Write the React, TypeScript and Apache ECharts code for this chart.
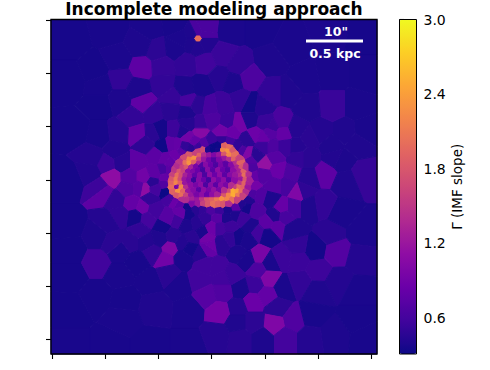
import React, { useEffect, useRef } from "react";
import * as echarts from "echarts";

const titleText = "Incomplete modeling approach";
const colorbarName = "Γ (IMF slope)";
const scaleTop = '10"';
const scaleBottom = "0.5 kpc";
const gammaTicks = [0.6, 1.2, 1.8, 2.4, 3.0];
const gammaMin = 0.31;
const gammaMax = 3.0;
const plasma = ["#0d0887", "#41049d", "#6a00a8", "#8f0da4", "#b12a90", "#cc4778", "#e16462", "#f2844b", "#fca636", "#fcce25", "#f0f921"];
const xTicks = [52, 105.2, 158.4, 211.6, 264.8, 318, 371.2];
const yTicks = [20, 73.2, 126.4, 179.6, 232.8, 286, 339];
const xRange = [51, 377];
const yRange = [19, 354];

// Voronoi bins: [x, y, gamma]
const binsBackground = [
  [70,40,.36],[110,30,.37],[150,28,.38],[175,25,.37],[70,80,.36],[95,70,.36],[100,105,.36],[75,130,.36],[100,135,.37],[70,180,.36],[70,225,.36],[72,250,.36],[72,275,.36],[70,310,.36],[70,345,.37],[110,345,.37],[97,295,.37],[125,300,.37],[150,345,.37],[150,280,.38],[190,345,.38],[190,310,.39],[180,285,.39],[230,30,.38],[260,30,.37],[290,45,.38],[330,30,.39],[365,35,.36],[365,75,.37],[332,75,.38],[357,105,.38],[305,80,.39],[270,60,.4],[365,130,.38],[345,132,.41],[320,132,.43],
];
const binsUpperLeft = [
  [142,67,.76],[120,79,.5],[118,58,.39],[100,85,.37],[120,100,.4],[157,50,.47],[140,44,.4],[175,48,.39],[162,66,.52],[163,84,.5],[138,89,.4],[143,103,.78],[133,117,.5],[153,114,.5],[138,134,.8],[118,133,.44],[115,150,.42],[160,130,.35],[173,97,.52],[188,100,.62],[172,110,.46],[153,133,.46],[175,130,.56],[187,113,.4],[198,105,.47],[200,132,1.05],[183,132,.41],[185,88,.4],[202,85,.38],[187,63,.5],[205,62,.58],[205,27,.64],[198,38,2.0],[198,31,.64],[204,34,.64],[204,42,.42],[198,45,.42],[192,42,.4],[192,34,.4],[180,38,.39],[163,147,.32],[172,145,.78],[157,155,.75],[145,143,.48],[137,163,.76],[122,163,.44],[106,164,.55],[92,157,.43],[90,172,.42],[112,178,1.1],[130,177,.7],[144,177,.9],[155,173,.76],[153,183,.46],[165,158,.8],[165,170,.62],[177,145,.8],[187,137,.9],[195,142,.8],[200,123,.54],[188,123,.44],[100,188,.56],[127,189,.66],[140,188,.72],
];
const binsRingEdge = [
  [170,162,.8],[176,155,.85],[182,151,.75],[185,147,.5],[191,149,.46],[198,146,.55],[205,144,.72],[212,141,.55],[222,140,.5],[230,142,.6],[237,146,.5],[243,151,.65],[251,160,.7],[251,168,.65],[254,176,.8],[254,186,.92],[252,194,.65],[248,200,.42],[242,204,.42],[235,207,.75],[227,209,.38],[219,210,.55],[210,209,.65],[202,208,.5],[195,208,.45],[187,206,.34],[180,203,.75],[175,200,.85],[170,197,.6],[166,191,.3],[165,184,.68],[166,177,.8],[168,170,.75],
];
const binsUpperRight = [
  [223,55,.54],[238,65,.5],[249,78,.66],[220,77,.44],[233,82,.4],[272,93,.5],[290,93,.41],[332,105,.54],[250,105,.34],[262,107,.44],[240,100,.5],[223,105,.56],[210,107,.62],[227,122,.55],[240,124,.9],[222,131,.9],[212,120,.66],[250,120,.4],[282,122,.64],[272,127,.56],[265,123,.54],[283,133,.8],[297,128,.44],[307,107,.41],[255,135,.86],[263,137,.82],[270,132,.72],[233,132,.84],[247,140,.47],[263,147,.55],[273,147,.66],[285,147,.55],[297,147,.44],[332,146,.41],[310,137,.46],[247,153,1.0],[265,163,1.15],[257,155,.46],[275,157,.72],[278,170,.84],[263,175,.7],[292,173,.66],[325,173,.76],[308,157,.46],[342,160,.4],[363,175,.52],[308,178,.44],[346,182,.41],[335,157,.42],[298,157,.5],[288,186,.62],[273,186,.7],[303,190,.48],[357,143,.41],
];
const binsLowerLeft = [
  [97,262,.58],[97,235,.4],[120,250,.39],[120,275,.38],[103,192,.76],[117,200,.5],[132,203,.8],[143,207,.88],[145,189,1.1],[135,217,.35],[120,215,.5],[150,198,.5],[155,188,.6],[155,210,.58],[148,219,.6],[170,248,1.0],[165,259,.9],[163,227,.35],[140,230,.5],[107,223,.43],[113,242,.46],[130,242,.46],[147,242,.43],[153,252,.5],[160,238,.41],[173,235,.46],[177,220,.58],[187,225,.4],[168,217,.72],[188,213,.35],[181,212,.8],[197,223,.44],[205,218,.5],[203,232,.38],[192,238,.46],[183,243,.43],[200,253,.44],[190,248,.35],[183,258,.38],[208,238,.9],[208,248,.8],[205,265,.58],[168,273,.46],[200,280,.58],[207,295,.72],[155,307,.41],[137,262,.37],[123,318,.38],
];
const binsLowerRight = [
  [297,192,1.0],[293,207,.6],[282,207,.82],[270,198,.4],[260,195,.68],[275,216,.41],[285,217,.62],[277,227,.75],[267,223,.75],[258,232,.58],[250,225,.4],[238,237,.35],[247,240,.38],[268,235,.35],[259,256,.95],[238,253,.4],[247,260,.38],[270,263,.38],[258,270,.66],[269,279,1.0],[283,288,.38],[300,282,.5],[318,270,.56],[298,260,.55],[283,257,.55],[315,248,.35],[297,245,.5],[337,252,.7],[330,232,.46],[340,213,.38],[310,207,.41],[323,205,.5],[293,230,.41],[363,232,.39],[360,258,.43],[338,282,.43],[317,292,.41],[255,285,.55],[240,289,.38],[223,278,.58],[217,267,.58],[232,275,.55],[223,292,.68],[253,302,.85],[267,295,.8],[237,308,.44],[220,312,.92],[277,308,.47],[293,320,.68],[274,324,1.0],[285,338,.6],[262,338,.4],[240,338,.46],[217,335,.44],[253,322,.47],[237,322,.41],[313,315,.37],[333,335,.4],[310,338,.43],[358,318,.37],[358,292,.38],[367,338,.37],[218,218,.72],[227,218,.4],[235,215,.4],[247,208,.35],[255,210,.66],[243,218,.56],[212,228,.86],[220,228,.6],[230,226,.56],[210,245,.86],[222,243,.46],[230,238,.5],
];
const binsRing = [
  [214,146,.3],[219,146,.32],[224,146,1.9],[229,147,2.0],
  [199,151,1.6],[203,150,1.7],[208,150,.4],[213,150,.3],[218,150,.35],[223,150,2.2],[228,151,2.3],[232,150,1.8],
  [190,155,1.8],[195,154,1.6],[199,155,1.9],[204,155,1.4],[209,155,1.2],[214,155,1.0],[219,154,1.2],[224,154,1.8],[229,155,2.2],[234,155,2.0],
  [185,158,1.7],[189,159,2.2],[194,158,2.3],[199,159,1.6],[204,159,1.2],[224,158,1.2],[229,159,1.4],[234,159,1.9],[238,159,1.6],
  [181,163,1.5],[185,163,2.0],[189,163,2.3],[194,162,1.9],[199,163,1.3],[235,163,1.4],[239,163,1.9],
  [178,167,1.4],[182,167,1.6],[186,167,1.8],[191,167,1.3],[237,167,1.3],[241,167,1.8],[245,168,1.4],
  [175,171,1.5],[179,171,1.8],[183,171,1.6],[188,171,1.1],[239,171,1.3],[243,171,1.9],
  [173,175,1.6],[177,175,2.0],[181,175,1.7],[185,175,1.3],[240,175,1.4],[244,175,2.0],[248,175,1.4],
  [172,179,1.8],[176,179,2.1],[180,179,1.7],[184,179,1.2],[241,179,1.2],[245,179,1.8],[249,179,1.3],
  [172,183,1.9],[176,183,2.2],[180,183,1.9],[185,183,1.2],[240,183,1.5],[244,183,1.9],[248,183,1.3],
  [172,187,2.0],[177,187,.95],[181,187,2.2],[186,187,1.4],[235,187,1.6],[239,187,2.0],[243,187,1.9],[247,187,1.2],
  [173,191,1.9],[178,191,2.3],[183,191,1.9],[188,191,1.2],[229,191,1.7],[233,191,2.5],[237,191,2.4],[241,191,2.0],[245,191,1.4],
  [177,195,1.8],[181,195,2.0],[186,195,1.6],[191,195,1.2],[224,195,1.8],[229,195,2.2],[233,195,2.5],[238,195,2.1],[242,195,1.6],
  [182,199,1.4],[187,199,1.4],[192,199,1.3],[197,199,1.2],[202,199,1.5],[207,199,1.8],[212,199,1.9],[217,199,2.1],[222,199,2.3],[227,199,2.2],[232,199,2.0],[237,199,1.6],
  [192,203,1.0],[198,203,1.2],[203,203,1.6],[208,203,1.8],[213,203,2.0],[218,203,1.9],[223,203,1.8],[228,203,1.4],
];
const binsInner = [
  [209,160,.9],[214,160,.7],[219,160,1.0],
  [196,166,.95],[201,165,.7],[206,165,1.05],[211,165,.85],[216,165,.65],[221,165,.95],[226,164,.75],[231,165,1.05],
  [193,171,1.0],[198,170,.85],[203,170,.6],[208,170,1.05],[213,170,.75],[218,170,1.1],[223,170,.85],[228,170,.7],[233,170,1.1],
  [190,176,1.1],[195,175,.8],[200,175,1.05],[205,175,.65],[210,175,1.1],[215,175,.85],[220,175,1.1],[225,175,.75],[230,175,1.05],[235,175,1.2],
  [189,180,1.05],[194,180,.55],[199,180,1.05],[204,180,.85],[209,180,.6],[214,180,1.1],[219,180,.9],[224,180,1.1],[229,180,.75],[234,180,1.1],
  [191,185,1.1],[196,185,.95],[201,185,1.1],[206,185,.65],[211,185,1.05],[216,185,.75],[221,185,1.1],[226,185,.95],[231,185,1.4],
  [194,190,1.05],[199,190,.75],[204,190,1.1],[209,190,.95],[214,190,1.15],[219,190,.95],[224,190,1.4],
  [197,194,.95],[202,194,1.1],[207,194,.85],[212,194,1.1],[217,194,1.3],
];
const bins = [...binsBackground, ...binsUpperLeft, ...binsRingEdge, ...binsUpperRight, ...binsLowerLeft, ...binsLowerRight, ...binsRing, ...binsInner];

function voronoiCell(i: number): number[][] {
  const [px, py] = bins[i];
  let poly = [[xRange[0], yRange[0]], [xRange[1], yRange[0]], [xRange[1], yRange[1]], [xRange[0], yRange[1]]];
  for (let j = 0; j < bins.length; j++) {
    if (j === i) continue;
    const [qx, qy] = bins[j];
    const nx = qx - px, ny = qy - py;
    const c = (qx * qx + qy * qy - px * px - py * py) / 2;
    const next: number[][] = [];
    for (let k = 0; k < poly.length; k++) {
      const a = poly[k], b = poly[(k + 1) % poly.length];
      const da = a[0] * nx + a[1] * ny - c, db = b[0] * nx + b[1] * ny - c;
      if (da <= 0) next.push(a);
      if ((da < 0 && db > 0) || (da > 0 && db < 0)) {
        const t = da / (da - db);
        next.push([a[0] + t * (b[0] - a[0]), a[1] + t * (b[1] - a[1])]);
      }
    }
    poly = next;
    if (!poly.length) break;
  }
  return poly;
}

export default function App() {
  const ref = useRef<HTMLDivElement>(null);
  useEffect(() => {
    const chart = echarts.init(ref.current!, undefined, { renderer: "svg" });
    const cells = bins.map((_, i) => voronoiCell(i));
    const font = "DejaVu Sans";
    chart.setOption({
      animation: false,
      backgroundColor: "#fff",
      title: {
        text: titleText, left: 214, top: 0, padding: 0, textAlign: "center",
        textStyle: { fontFamily: font, fontWeight: "bold", fontSize: 17, color: "#000" },
      },
      grid: [
        { left: 51, top: 19.5, width: 326, height: 334.5, show: true, z: 5, backgroundColor: "transparent", borderColor: "#000", borderWidth: 1.3 },
        { left: 399.5, top: 19.5, width: 17, height: 334.5, show: true, z: 5, backgroundColor: "transparent", borderColor: "#000", borderWidth: 1 },
      ],
      xAxis: [
        { gridIndex: 0, type: "value", min: xRange[0], max: xRange[1], splitLine: { show: false }, axisLine: { show: false },
          axisLabel: { show: false }, axisTick: { show: true, length: 5, lineStyle: { color: "#000", width: 1.1 }, customValues: xTicks } },
        { gridIndex: 1, type: "value", min: 0, max: 1, show: false },
      ],
      yAxis: [
        { gridIndex: 0, type: "value", inverse: true, min: yRange[0], max: yRange[1], splitLine: { show: false }, axisLine: { show: false },
          axisLabel: { show: false }, axisTick: { show: true, length: 5, lineStyle: { color: "#000", width: 1.1 }, customValues: yTicks } },
        { gridIndex: 1, type: "value", position: "right", min: gammaMin, max: gammaMax, splitLine: { show: false }, axisLine: { show: false },
          axisTick: { show: true, length: 5, lineStyle: { color: "#000", width: 1.1 }, customValues: gammaTicks },
          axisLabel: { show: true, margin: 7, color: "#000", fontFamily: font, fontSize: 14, customValues: gammaTicks, formatter: (v: number) => v.toFixed(1) },
          name: colorbarName, nameLocation: "middle", nameRotate: 90, nameGap: 33,
          nameTextStyle: { color: "#000", fontFamily: font, fontSize: 13.5 } },
      ],
      visualMap: {
        type: "continuous", seriesIndex: 0, dimension: 2, min: gammaMin, max: gammaMax, calculable: false, hoverLink: false,
        left: 399.5, top: 19.5, itemWidth: 17, itemHeight: 334.5, padding: 0, text: undefined, z: 3,
        inRange: { color: plasma },
      },
      series: [
        {
          type: "custom", xAxisIndex: 0, yAxisIndex: 0, coordinateSystem: "cartesian2d",
          encode: { x: 0, y: 1 }, data: bins, silent: true,
          renderItem: (params: any, api: any) => {
            const color = api.visual("color");
            return {
              type: "polygon",
              shape: { points: cells[params.dataIndex].map((p) => api.coord(p)) },
              style: { fill: color, stroke: color, lineWidth: 1, lineJoin: "round" },
            };
          },
        },
      ],
      graphic: [
        { type: "line", z: 20, shape: { x1: 306, y1: 41, x2: 363, y2: 41 }, style: { stroke: "#fff", lineWidth: 3 } },
        { type: "text", z: 20, x: 336, y: 31, style: { text: scaleTop, fill: "#fff", fontFamily: font, fontWeight: "bold", fontSize: 12.5, align: "center", verticalAlign: "middle" } },
        { type: "text", z: 20, x: 335, y: 53, style: { text: scaleBottom, fill: "#fff", fontFamily: font, fontWeight: "bold", fontSize: 12.5, align: "center", verticalAlign: "middle" } },
      ],
    });
    return () => chart.dispose();
  }, []);
  return <div ref={ref} style={{ position: "fixed", left: 0, top: 0, width: 490, height: 370 }} />;
}
